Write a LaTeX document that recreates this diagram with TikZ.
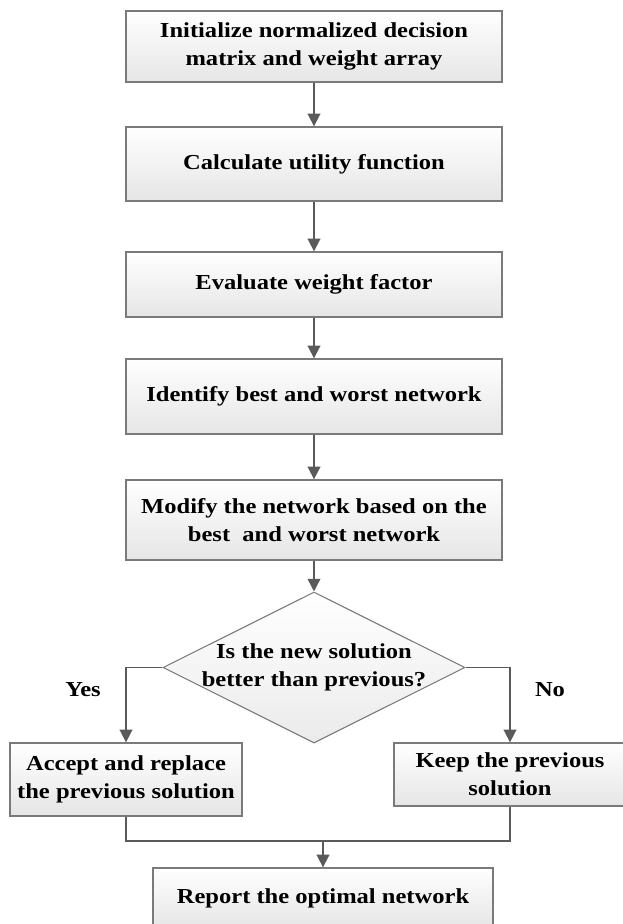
\documentclass[tikz,border=0pt]{standalone}
\usepackage{fontspec}
\setmainfont{Liberation Serif}[FakeStretch=1.15]
\usetikzlibrary{arrows.meta,shapes.geometric}
\definecolor{linegray}{HTML}{5A5A5A}
\definecolor{boxgray}{HTML}{7A7A7A}
\begin{document}
\begin{tikzpicture}[x=0.75pt,y=-0.75pt,
    font=\fontsize{16}{21}\selectfont\bfseries,
    box/.style={draw=boxgray,line width=1pt,top color=white,bottom color=black!10,
      align=center,inner sep=0pt,minimum width=376*0.75pt},
    decision/.style={diamond,draw=boxgray,line width=0.8pt,top color=white,bottom color=black!8,
      align=center,inner xsep=-50pt,inner ysep=0pt,minimum width=302*0.75pt,minimum height=151*0.75pt},
    flow/.style={draw=linegray,line width=1.3pt,-{Triangle[length=9.5pt,width=9.5pt]}},
    mergeline/.style={draw=linegray,line width=1.3pt}]
   \useasboundingbox (0,0) rectangle (622,924);

   \pgfmathsetmacro{\xM}{314}

   \node[box,minimum height=71*0.75pt] (init) at (\xM,46.5) {Initialize normalized decision\\matrix and weight array};
   \node[box,minimum height=74*0.75pt] (calc) at (\xM,164) {Calculate utility function};
   \node[box,minimum height=65*0.75pt] (eval) at (\xM,284.5) {Evaluate weight factor};
   \node[box,minimum height=75*0.75pt] (ident) at (\xM,396.5) {Identify best and worst network};
   \node[box,minimum height=80*0.75pt] (modify) at (\xM,520) {Modify the network based on the\\best~ and worst network};
   \node[decision] (better) at (\xM,667.5) {Is the new solution\\better than previous?};

   \node[box,minimum width=232*0.75pt,minimum height=73*0.75pt] (accept) at (126,779.5) {Accept and replace\\the previous solution};
   \node[box,minimum width=232*0.75pt,minimum height=63*0.75pt] (keep) at (510,774.5) {Keep the previous\\solution};
   \node[box,minimum width=340*0.75pt,minimum height=60*0.75pt] (report) at (323,898) {Report the optimal network};

   \node (yes) at (83,690) {Yes};
   \node (no) at (550,690) {No};

   \coordinate (merge) at (323,841);

   \draw[flow] (init) -- (calc);
   \draw[flow] (calc) -- (eval);
   \draw[flow] (eval) -- (ident);
   \draw[flow] (ident) -- (modify);
   \draw[flow] (modify) -- (better);
   \draw[flow] (better.west) -| (accept.north);
   \draw[flow] (better.east) -| (keep.north);
   \draw[mergeline] (accept.south) |- (merge);
   \draw[mergeline] (keep.south) |- (merge);
   \draw[flow] (merge) -- (report.north);
\end{tikzpicture}
\end{document}
